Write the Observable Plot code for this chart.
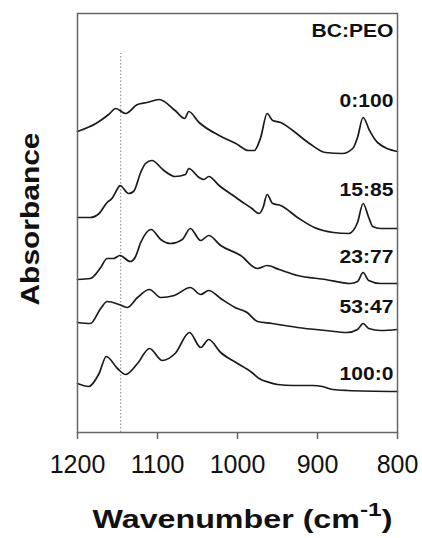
<!DOCTYPE html>
<html><head><meta charset="utf-8">
<script src="https://cdn.jsdelivr.net/npm/d3@7"></script>
<script src="https://cdn.jsdelivr.net/npm/@observablehq/plot@0.6"></script>
<style>
html,body{margin:0;padding:0;background:#fff;}
</style></head><body><div id="chart"></div>
<script>
// FTIR spectra, absorbance in arbitrary (offset) units
const seriesNames = ["0:100", "15:85", "23:77", "53:47", "100:0"];

const wn_0_100  = [1200,1177,1161,1152,1140,1125,1113,1098,1078,1066,1061,1048,1023,1002,986,979,971,963,956,946,931,910,890,869,856,850,843,835,825,800];
const abs_0_100 = [3.01,3.09,3.18,3.24,3.19,3.28,3.30,3.33,3.22,3.14,3.21,3.10,2.97,2.89,2.82,2.82,2.95,3.19,3.12,3.10,3.02,2.89,2.80,2.79,2.84,2.95,3.15,3.02,2.90,2.81];

const wn_15_85  = [1200,1184,1173,1163,1157,1149,1147,1136,1130,1121,1115,1107,1092,1078,1065,1061,1048,1042,1036,1023,1002,982,973,968,963,956,946,925,904,880,861,850,843,836,831,821,800];
const abs_15_85 = [2.15,2.15,2.19,2.30,2.34,2.45,2.47,2.39,2.41,2.60,2.69,2.72,2.62,2.56,2.58,2.64,2.55,2.53,2.56,2.47,2.35,2.24,2.19,2.25,2.38,2.29,2.27,2.15,2.05,2.00,1.99,2.10,2.29,2.15,2.06,2.04,2.04];

const wn_23_77  = [1200,1184,1171,1163,1155,1147,1134,1128,1121,1108,1096,1084,1069,1059,1046,1036,1021,996,975,963,948,925,890,859,850,843,836,821,800];
const abs_23_77 = [1.53,1.54,1.65,1.74,1.74,1.77,1.71,1.75,1.90,2.03,1.93,1.89,1.93,2.04,1.92,1.97,1.87,1.77,1.64,1.67,1.63,1.57,1.53,1.49,1.51,1.60,1.52,1.49,1.49];

const wn_53_47  = [1200,1184,1171,1163,1148,1138,1125,1110,1096,1079,1059,1046,1036,1021,1003,988,975,957,925,890,863,850,843,836,821,800];
const abs_53_47 = [1.10,1.09,1.24,1.31,1.28,1.25,1.35,1.43,1.35,1.37,1.45,1.38,1.42,1.34,1.25,1.20,1.11,1.09,1.05,1.02,1.00,1.03,1.09,1.04,1.02,1.03];

const wn_100_0  = [1200,1186,1173,1164,1150,1140,1125,1110,1094,1078,1060,1046,1036,1021,1002,982,973,960,950,930,906,894,881,863,800];
const abs_100_0 = [0.49,0.46,0.59,0.76,0.64,0.58,0.69,0.84,0.72,0.79,1.00,0.85,0.93,0.80,0.70,0.60,0.54,0.50,0.48,0.47,0.47,0.46,0.43,0.42,0.41];

const seriesLabelY = [3.26, 2.37, 1.70, 1.20, 0.53];
const headerText = "BC:PEO";
const headerY = 3.96;
const xTicks = [1200, 1100, 1000, 900, 800];
const markerWavenumber = 1146;
const markerTop = 3.79;
const xLabel = "Wavenumber (cm-1)";
const yLabel = "Absorbance";

const seriesWn = [wn_0_100, wn_15_85, wn_23_77, wn_53_47, wn_100_0];
const seriesAbs = [abs_0_100, abs_15_85, abs_23_77, abs_53_47, abs_100_0];
const rows = seriesNames.flatMap((s, i) => seriesWn[i].map((w, j) => ({series: s, wn: w, abs: seriesAbs[i][j]})));
const labelRows = seriesNames.map((s, i) => ({text: s, y: seriesLabelY[i]})).concat([{text: headerText, y: headerY}]);

const font = "'Liberation Sans', Arial, Helvetica, sans-serif";

const chart = Plot.plot({
  width: 422, height: 538,
  marginTop: 13, marginBottom: 106, marginLeft: 77, marginRight: 25,
  style: {fontFamily: font, background: "#fff", color: "#111"},
  x: {domain: [1200, 800]},
  y: {domain: [0, 4.19], axis: null},
  marks: [
    Plot.ruleX([markerWavenumber], {x: d => d, y1: 0, y2: markerTop, stroke: "#999", strokeDasharray: "1.5,2", strokeWidth: 1.2}),
    Plot.line(rows, {x: "wn", y: "abs", z: "series", curve: "monotone-x", stroke: "#1a1a1a", strokeWidth: 1.7}),
    Plot.axisX({ticks: xTicks, tickSize: 7, tickPadding: 16, fontSize: 25, stroke: "#666", strokeWidth: 1.5, label: null, tickFormat: d => String(d)}),
    Plot.frame({stroke: "#666", strokeWidth: 1.5}),
    Plot.text(labelRows, {x: () => 800, y: "y", text: "text", textAnchor: "end", lineAnchor: "bottom", dx: -4, fontSize: 18, fontWeight: "bold", fill: "#111"}),
    Plot.text([xLabel], {text: d => d, frameAnchor: "bottom", textAnchor: "middle", lineAnchor: "bottom", dy: 95, dx: 5, fontSize: 25, fontWeight: "bold", fill: "#111"}),
    Plot.text([yLabel], {text: d => d, frameAnchor: "left", textAnchor: "middle", lineAnchor: "bottom", rotate: -90, dx: -39, dy: -4, fontSize: 25, fontWeight: "bold", fill: "#111"})
  ]
});
document.getElementById("chart").appendChild(chart);

// widen bold labels to match the reference's wide bold face
const labelSet = new Set(labelRows.map(d => d.text));
d3.select(chart).selectAll("text").each(function() {
  const t = this.textContent;
  if (labelSet.has(t)) {
    const w = this.getComputedTextLength();
    this.setAttribute("textLength", (w * 1.17).toFixed(1));
    this.setAttribute("lengthAdjust", "spacingAndGlyphs");
  } else if (t === xLabel) {
    const el = d3.select(this);
    el.text(null);
    el.append("tspan").text("Wavenumber (cm");
    el.append("tspan").attr("dy", -12).attr("font-size", 19).text("-1");
    el.append("tspan").attr("dy", 12).text(")");
    this.setAttribute("textLength", 300);
    this.setAttribute("lengthAdjust", "spacingAndGlyphs");
  } else if (t === yLabel) {
    this.setAttribute("textLength", 173);
    this.setAttribute("lengthAdjust", "spacingAndGlyphs");
  }
});
</script></body></html>
